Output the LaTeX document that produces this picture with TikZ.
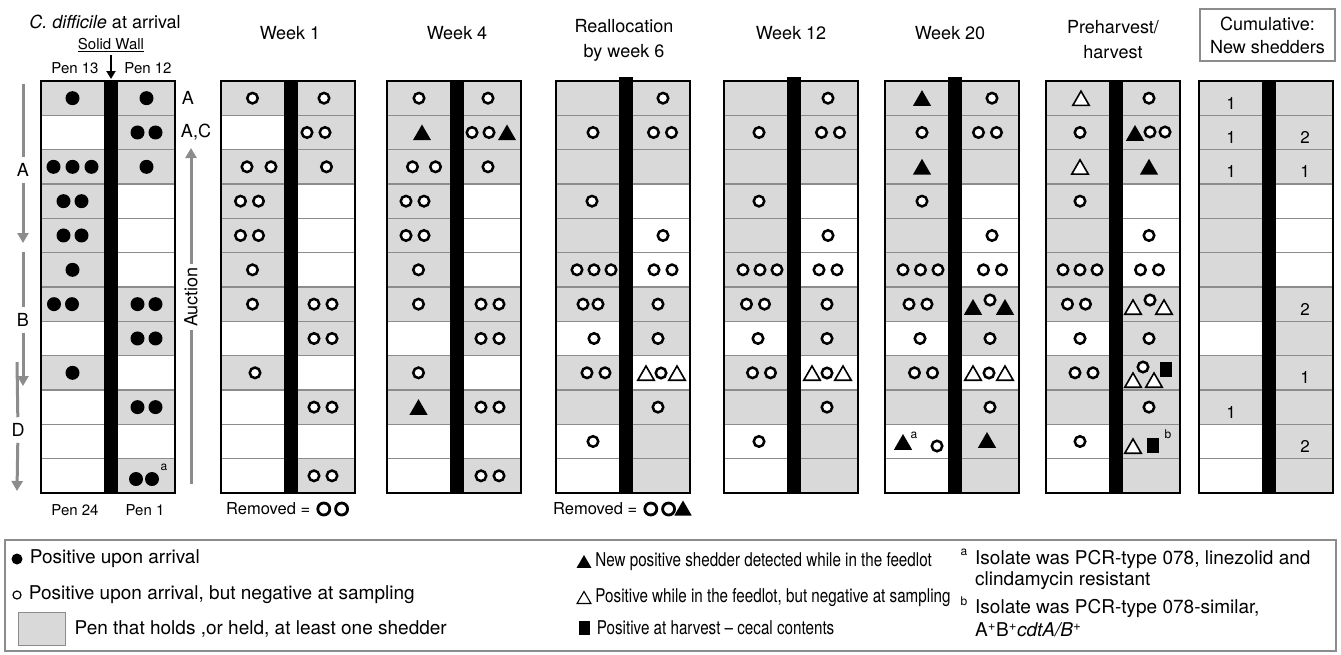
\documentclass[tikz,border=0pt]{standalone}
\usepackage{fontspec}
\setmainfont{TeX Gyre Heros}
\usepackage{xcolor}
\usepackage{graphicx}
\usepackage{tikz}
\usetikzlibrary{shapes.geometric, arrows.meta, positioning, calc}

\definecolor{shedgray}{gray}{0.85}
\definecolor{rulegray}{gray}{0.55}
\colorlet{G}{shedgray}
\colorlet{W}{white}

\tikzset{
  fdot/.style={circle, fill=black, inner sep=0pt, minimum size=14pt},
  odot/.style={circle, draw=black, fill=white, line width=2.5pt, inner sep=0pt, minimum size=10.5pt},
  odotbig/.style={odot, minimum size=12pt, line width=2.8pt},
  ftri/.style={regular polygon, regular polygon sides=3, fill=black, inner sep=0pt, minimum size=21pt, yshift=-2.5pt},
  otri/.style={regular polygon, regular polygon sides=3, draw=black, fill=white, line width=1.6pt, inner sep=0pt, minimum size=19pt, yshift=-2.5pt},
  fsq/.style={rectangle, fill=black, inner sep=0pt, minimum width=12pt, minimum height=15pt},
  rowline/.style={draw=rulegray, line width=1.3pt},
  penframe/.style={draw=black, line width=2.5pt},
  hdr/.style={font=\fontsize{18}{25}\selectfont, align=center},
  small/.style={font=\fontsize{15}{18}\selectfont},
  lbl/.style={font=\fontsize{18}{22}\selectfont},
  num/.style={font=\fontsize{17}{20}\selectfont},
  supr/.style={font=\fontsize{12}{14}\selectfont, inner sep=0pt},
  leg/.style={font=\fontsize{19}{22}\selectfont, anchor=west, inner sep=0pt},
  grayarr/.style={draw=rulegray, line width=3pt},
  grayhead/.style={grayarr, -{Triangle[width=11pt,length=10pt]}},
}

% row shades of each block (left/right)
\newcommand{\shadeArr}{G/G,W/G,G/G,G/W,G/W,G/W,G/G,W/G,G/W,W/G,W/W,W/G}
\newcommand{\shadeWkFour}{G/G,G/G,G/G,G/W,G/W,G/W,G/G,W/G,G/W,G/G,W/W,W/G}
\newcommand{\shadeMid}{G/G,G/G,G/G,G/W,G/W,G/W,G/G,W/G,G/W,G/G,W/G,W/G}
\newcommand{\shadeEnd}{G/G,G/G,G/G,G/W,G/W,G/W,G/G,W/G,G/G,G/G,W/G,W/G}

% narrow legend text
\newcommand{\narrowtxt}[1]{\scalebox{0.8}[1]{#1}}

% one pen block: [bar top] left x, row shades
\newcommand{\penpanel}[3][81]{%
  \foreach \shL/\shR [count=\rw] in #3 {%
    \fill[fill=\shL] (#2,{81+34.33*(\rw-1)}) rectangle ({#2+63},{81+34.33*\rw});
    \fill[fill=\shR] ({#2+77},{81+34.33*(\rw-1)}) rectangle ({#2+134},{81+34.33*\rw});
  }
  \foreach \rw in {1,...,11}
    \draw[rowline] (#2,{81+34.33*\rw}) -- ++(134,0);
  \fill ({#2+63},#1) rectangle ({#2+77},493);
  \draw[penframe] (#2,81) rectangle ({#2+134},493);
}

% a row of equal marks: [gap]{style}{centre x}{row}{count}
\newcounter{mk}
\newcommand{\pensyms}[5][18]{%
  \foreach \kk in {1,...,#5}{%
    \stepcounter{mk}%
    \node[#2] (mk\arabic{mk}) at ({#3+#1*(\kk-(#5+1)/2)},{81+34.33*(#4-0.5)}) {};
  }%
}

\begin{document}
\begin{tikzpicture}[x=1pt, y=-1pt]
    \useasboundingbox (0,0) rectangle (1341,654);

    % Pen blocks
    \penpanel{41}{\shadeArr}
    \penpanel{221}{\shadeArr}
    \penpanel{387}{\shadeWkFour}
    \penpanel[77]{556}{\shadeMid}
    \penpanel[77]{724}{\shadeMid}
    \penpanel[77]{885}{\shadeMid}
    \penpanel{1046}{\shadeEnd}
    \penpanel{1199}{\shadeEnd}

    % Headers
    \node[hdr] (hArr) at (105,22) {\textit{C. difficile} at arrival};
    \node[small] (wall) at (111,45) {\underline{Solid Wall}};
    \node[small] (pen13) at (75,68) {Pen 13};
    \node[small] (pen12) at (148,68) {Pen 12};
    \coordinate (wallTip) at (111,79);
    \draw[line width=2.2pt, -{Triangle[width=9pt,length=8pt]}] (wall) -- (wallTip);
    \node[hdr] (hW1) at (290,33) {Week 1};
    \node[hdr] (hW4) at (457,33) {Week 4};
    \node[hdr] (hRe) at (624,40) {Reallocation\\by week 6};
    \node[hdr] (hW12) at (791,33) {Week 12};
    \node[hdr] (hW20) at (950,33) {Week 20};
    \node[hdr] (hPre) at (1113,40) {Preharvest/\\harvest};
    \node[hdr, draw=rulegray, line width=1.5pt, minimum width=135pt, minimum height=52pt, font=\fontsize{18}{23}\selectfont] (hCum) at (1267.5,35) {Cumulative:\\New shedders};

    % Side labels and arrows
    \node[lbl, inner sep=6pt] (lA) at (23,170) {A};
    \coordinate (lAtop) at (23,84);
    \coordinate (lAend) at (23,243);
    \draw[grayarr] (lAtop) -- (lA);
    \draw[grayhead] (lA) -- (lAend);
    \node[lbl, inner sep=6pt] (lB) at (23,320) {B};
    \coordinate (lBtop) at (23,252);
    \coordinate (lBend) at (23,386);
    \draw[grayarr] (lBtop) -- (lB);
    \draw[grayhead] (lB) -- (lBend);
    \node[lbl, inner sep=6pt] (lD) at (18,430) {D};
    \coordinate (lDtop) at (17,362);
    \coordinate (lDend) at (17,491);
    \draw[grayarr] (lDtop) -- (lD);
    \draw[grayhead] (lD) -- (lDend);

    \node[lbl] (rA) at (188,98) {A};
    \node[lbl] (rAC) at (196,132) {A,C};
    \node[lbl, rotate=90, fill=white, inner sep=3pt] (auc) at (191,297) {Auction};
    \coordinate (aucBot) at (191,484);
    \coordinate (aucTop) at (191,148);
    \draw[grayarr] (aucBot) -- (auc);
    \draw[grayhead] (auc) -- (aucTop);

    \node[small] (pen24) at (75,510) {Pen 24};
    \node[small] (pen1) at (145,510) {Pen 1};

    % C. difficile at arrival
    \foreach \cx/\rw/\n in {72.5/1/1,146.5/1/1,146.5/2/2,146.5/3/1,72.5/4/2,72.5/5/2,72.5/6/1,63/7/2,146.5/7/2,146.5/8/2,72.5/9/1,146.5/10/2}
      {\pensyms{fdot}{\cx}{\rw}{\n}}
    \pensyms[19]{fdot}{72.5}{3}{3}
    \node[fdot] (p1a) at (136,479) {};
    \node[fdot] (p1b) at (152,479) {};
    \node[supr] (p1sup) at (164,467) {a};

    % Week 1
    \foreach \cx/\rw/\n in {252.5/1/1,324/1/1,316/2/2,326.5/3/1,249.5/4/2,249.5/5/2,252.5/6/1,252.5/7/1,323/7/2,323/8/2,255/9/1,323/10/2,323/12/2}
      {\pensyms{odot}{\cx}{\rw}{\n}}
    \pensyms[24]{odot}{259}{3}{2}
    \node[small, font=\fontsize{16.5}{18}\selectfont, anchor=west, inner sep=0pt] (rem1) at (226,509) {Removed =};
    \node[odotbig, right=6pt of rem1] (rem1a) {};
    \node[odotbig, right=3pt of rem1a] (rem1b) {};

    % Week 4
    \foreach \cx/\rw/\n in {419/1/1,488/1/1,488/3/1,415/4/2,415/5/2,418.5/6/1,418.5/7/1,490/7/2,490/8/2,418.5/9/1,490/10/2,490/12/2}
      {\pensyms{odot}{\cx}{\rw}{\n}}
    \pensyms[23]{odot}{424}{3}{2}
    \pensyms[17]{odot}{480.5}{2}{2}
    \foreach \cx/\rw in {422/2,507/2,418.5/10}
      {\pensyms{ftri}{\cx}{\rw}{1}}

    % Reallocation by week 6
    \foreach \cx/\rw/\n in {663/1/1,593/2/1,662.5/2/2,592/4/1,663/5/1,663/6/2,658/7/1,594/8/1,658/8/1,658/10/1,593/11/1}
      {\pensyms{odot}{\cx}{\rw}{\n}}
    \pensyms[17]{odot}{594}{6}{3}
    \pensyms[15]{odot}{590.5}{7}{2}
    \pensyms{odot}{596}{9}{2}
    \node[otri] (re9a) at (646,373) {};
    \node[odot] (re9b) at (661,373) {};
    \node[otri] (re9c) at (677,373) {};
    \node[small, font=\fontsize{16.5}{18}\selectfont, anchor=west, inner sep=0pt] (rem2) at (553,509) {Removed =};
    \node[odotbig, right=6pt of rem2] (rem2a) {};
    \node[odotbig, right=3pt of rem2a] (rem2b) {};
    \node[ftri, minimum size=20pt, right=1pt of rem2b, yshift=1pt] (rem2c) {};

    % Week 12
    \foreach \cx/\rw/\n in {828/1/1,759/2/1,830.5/2/2,759/4/1,828/5/1,828/6/2,755.5/7/2,827/7/1,758/8/1,827/8/1,761.5/9/2,827/10/1,759/11/1}
      {\pensyms{odot}{\cx}{\rw}{\n}}
    \pensyms[17]{odot}{760}{6}{3}
    \node[otri] (w12a) at (812,373) {};
    \node[odot] (w12b) at (827,373) {};
    \node[otri] (w12c) at (843,373) {};

    % Week 20
    \foreach \cx/\rw/\n in {992/1/1,922/2/1,987.5/2/2,922/4/1,992/5/1,992.5/6/2,918/7/2,920/8/1,990/8/1,923.5/9/2,990/10/1}
      {\pensyms{odot}{\cx}{\rw}{\n}}
    \pensyms[17.5]{odot}{920.5}{6}{3}
    \foreach \cx/\rw in {922/1,922/3}
      {\pensyms{ftri}{\cx}{\rw}{1}}
    \node[ftri] (w20a) at (973,307) {};
    \node[odot] (w20b) at (990,300) {};
    \node[ftri] (w20c) at (1005,307) {};
    \node[otri] (w20d) at (973,373) {};
    \node[odot] (w20e) at (989,373) {};
    \node[otri] (w20f) at (1005,373) {};
    \node[ftri] (w20g) at (903,442) {};
    \node[supr] (w20sup) at (914,435) {a};
    \node[odot] (w20h) at (937,446) {};
    \node[ftri] (w20i) at (987,440) {};

    % Preharvest/harvest
    \foreach \cx/\rw/\n in {1149/1/1,1080/2/1,1080/4/1,1149/5/1,1149.5/6/2,1076.5/7/2,1080/8/1,1149/8/1,1084/9/2,1149/10/1,1080/11/1}
      {\pensyms{odot}{\cx}{\rw}{\n}}
    \pensyms[17]{odot}{1080}{6}{3}
    \foreach \cx/\rw in {1081/1,1080/3}
      {\pensyms{otri}{\cx}{\rw}{1}}
    \pensyms{ftri}{1149}{3}{1}
    \node[ftri] (ph2a) at (1135,133) {};
    \node[odot] (ph2b) at (1150,132) {};
    \node[odot] (ph2c) at (1165,132) {};
    \node[otri] (ph7a) at (1133,307) {};
    \node[odot] (ph7b) at (1150,300) {};
    \node[otri] (ph7c) at (1164,307) {};
    \node[otri] (ph9a) at (1133,380) {};
    \node[odot] (ph9b) at (1143,367) {};
    \node[otri] (ph9c) at (1154,380) {};
    \node[fsq] (ph9d) at (1166,369) {};
    \node[otri] (ph11a) at (1133,446) {};
    \node[fsq] (ph11b) at (1153,445) {};
    \node[supr] (ph11sup) at (1168,434) {b};

    % Cumulative new shedders
    \foreach \cx/\rw/\v [count=\i] in {1231/1/1,1231/2/1,1231/3/1,1231/10/1,1305/2/2,1305/3/1,1305/7/2,1305/9/1,1305/11/2}
      {\node[num] (cum\i) at (\cx,{86+34.33*(\rw-0.5)}) {\v};}

    % Legend
    \draw[draw=rulegray, line width=1.3pt] (5,540) rectangle (1336,651);
    \node[fdot, minimum size=11pt] (kFdot) at (17,559) {};
    \node[leg, right=7pt of kFdot] (kFdotT) {Positive upon arrival};
    \node[odot, minimum size=8pt, line width=1.2pt] (kOdot) at (17,595) {};
    \node[leg, right=7pt of kOdot] (kOdotT) {Positive upon arrival, but negative at sampling};
    \node[draw=rulegray, fill=shedgray, line width=1pt, minimum width=47pt, minimum height=33pt] (kBox) at (41.5,628.5) {};
    \node[leg, right=9pt of kBox] (kBoxT) {Pen that holds ,or held, at least one shedder};
    \node[ftri, minimum size=17pt] (kFtri) at (584,561) {};
    \node[leg, right=6pt of kFtri, yshift=2pt] (kFtriT) {\narrowtxt{New positive shedder detected while in the feedlot}};
    \node[otri, minimum size=16pt, line width=1.1pt] (kOtri) at (584,597) {};
    \node[leg, right=6pt of kOtri, yshift=2pt] (kOtriT) {\narrowtxt{Positive while in the feedlot, but negative at sampling}};
    \node[fsq, minimum width=11pt, minimum height=14pt] (kSq) at (584,628) {};
    \node[leg, right=7pt of kSq] (kSqT) {\narrowtxt{Positive at harvest -- cecal contents}};
    \node[supr] (kSupA) at (964,552) {a};
    \node[leg] (kIsoA) at (975,559) {Isolate was PCR-type 078, linezolid and};
    \node[leg] (kIsoA2) at (975,581) {clindamycin resistant};
    \node[supr] (kSupB) at (964,601) {b};
    \node[leg] (kIsoB) at (975,608) {Isolate was PCR-type 078-similar,};
    \node[leg] (kIsoB2) at (975,630) {A\textsuperscript{+}B\textsuperscript{+}\textit{cdtA/B}\textsuperscript{+}};
\end{tikzpicture}
\end{document}
